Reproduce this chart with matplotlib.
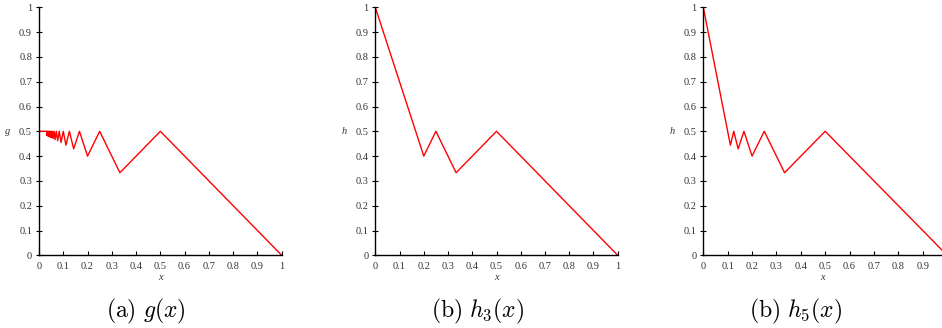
import matplotlib
matplotlib.use('Agg')
import matplotlib.pyplot as plt

# g(x): values read at the corners of the zig-zag
g_x = [0, 0.0313, 0.0323, 0.0333, 0.0345, 0.0357, 0.037, 0.0385, 0.04,
       0.0417, 0.0435, 0.0455, 0.0476, 0.05, 0.0526, 0.0556, 0.0588,
       0.0625, 0.0667, 0.0714, 0.0769, 0.0833, 0.0909, 0.1, 0.1111,
       0.125, 0.1429, 0.1667, 0.2, 0.25, 0.3333, 0.5, 1]
g_y = [0.5, 0.5, 0.484, 0.5, 0.483, 0.5, 0.481, 0.5, 0.48,
       0.5, 0.478, 0.5, 0.476, 0.5, 0.474, 0.5, 0.471,
       0.5, 0.467, 0.5, 0.462, 0.5, 0.455, 0.5, 0.444,
       0.5, 0.429, 0.5, 0.4, 0.5, 0.333, 0.5, 0]

# h3(x)
h3_x = [0, 0.2, 0.25, 0.3333, 0.5, 1]
h3_y = [1, 0.4, 0.5, 0.333, 0.5, 0]

# h5(x)
h5_x = [0, 0.1111, 0.125, 0.1429, 0.1667, 0.2, 0.25, 0.3333, 0.5, 1]
h5_y = [1, 0.444, 0.5, 0.429, 0.5, 0.4, 0.5, 0.333, 0.5, 0]

ticks = [0, 0.1, 0.2, 0.3, 0.4, 0.5, 0.6, 0.7, 0.8, 0.9, 1]
tick_labels = ['0', '0.1', '0.2', '0.3', '0.4', '0.5', '0.6', '0.7', '0.8', '0.9', '1']

plt.rcParams['font.family'] = 'Liberation Serif'
plt.rcParams['mathtext.fontset'] = 'cm'

W, H = 942, 328
fig = plt.figure(figsize=(W / 100, H / 100), dpi=100)

panels = [
    # left px, width px, xmax, data x, data y, ylabel, caption, caption center px
    (39, 242.7, 1.0, g_x, g_y, 'g', r'$\mathrm{(a)}\ g(x)$', 146),
    (375.3, 242.4, 1.0, h3_x, h3_y, 'h', r'$\mathrm{(b)}\ h_3(x)$', 478),
    (703.3, 238.7, 0.979, h5_x, h5_y, 'h', r'$\mathrm{(b)}\ h_5(x)$', 796),
]

bottom_px, top_px = 255.3, 7.3
for left, width, xmax, xs, ys, ylab, cap, capx in panels:
    ax = fig.add_axes([left / W, 1 - bottom_px / H, width / W, (bottom_px - top_px) / H])
    ax.plot(xs, ys, color='red', lw=1.0)
    ax.set_xlim(0, xmax)
    ax.set_ylim(0, 1)
    ax.spines['top'].set_visible(False)
    ax.spines['right'].set_visible(False)
    ax.spines['left'].set_linewidth(1.0)
    ax.spines['bottom'].set_linewidth(1.0)
    xt = [t for t in ticks if t <= xmax]
    ax.set_xticks(xt)
    ax.set_xticklabels(tick_labels[:len(xt)])
    ax.set_yticks(ticks)
    ax.set_yticklabels(tick_labels)
    ax.tick_params(axis='x', direction='in', length=3, width=0.8, pad=4.5,
                   labelsize=7.5, labelcolor='#333333')
    ax.tick_params(axis='y', direction='inout', length=4, width=0.8, pad=3,
                   labelsize=7.5, labelcolor='#333333')
    ax.set_xlabel('x', fontstyle='italic', fontsize=7.5, labelpad=1.5, color='#333333')
    ax.set_ylabel(ylab, fontstyle='italic', fontsize=7.5, rotation=0, labelpad=8,
                  va='center', color='#333333')
    fig.text(capx / W, 1 - 311 / H, cap, ha='center', va='center', fontsize=17)

fig.savefig('out.png', dpi=100)
